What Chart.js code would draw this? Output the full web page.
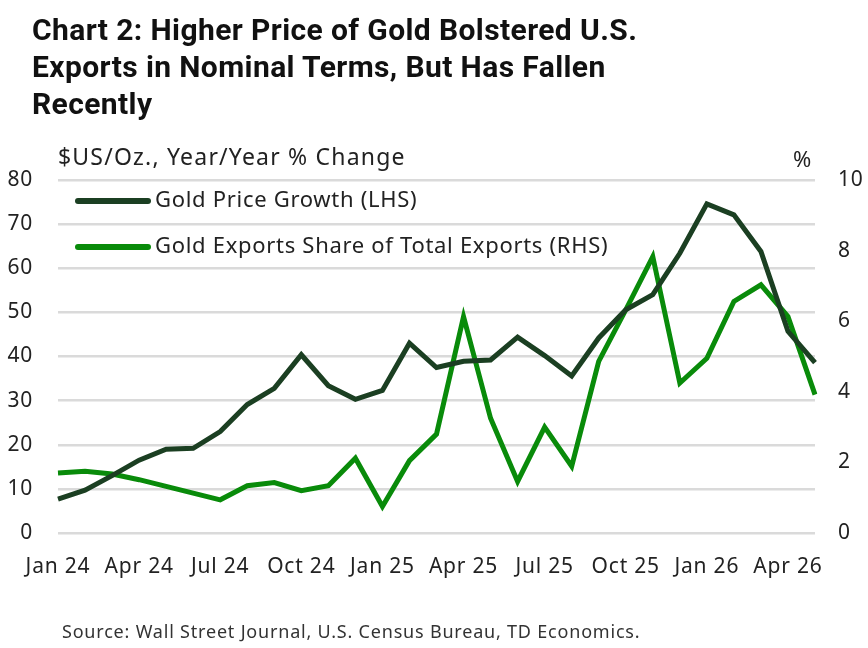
<!DOCTYPE html>
<html>
<head>
<meta charset="utf-8">
<script src="https://cdn.jsdelivr.net/npm/chart.js@4"></script>
<style>
  html, body { margin: 0; padding: 0; background: #fff; }
  #wrap { position: relative; width: 868px; height: 648px; overflow: hidden; }
  #chart { position: absolute; left: 0; top: 0; }
  .title {
    position: absolute; left: 32px; top: 11px;
    font-family: Roboto, sans-serif; font-weight: bold;
    font-size: 30px; line-height: 37px; letter-spacing: 0.4px; color: #111;
  }
  .txt { position: absolute; font-family: "Noto Sans", sans-serif; color: #222; white-space: nowrap; }
</style>
</head>
<body>
<div id="wrap">
  <canvas id="chart" width="868" height="648"></canvas>
  <div class="title">Chart 2: Higher Price of Gold Bolstered U.S.<br>Exports in Nominal Terms, But Has Fallen<br>Recently</div>
  <div class="txt" style="left:58px; top:140px; font-size:23px; letter-spacing:1.2px;">$US/Oz., Year/Year % Change</div>
  <div class="txt" style="left:793px; top:143px; font-size:22px;">%</div>
  <div class="txt" style="left:62px; top:619px; font-size:18px; letter-spacing:0.8px; color:#333;">Source: Wall Street Journal, U.S. Census Bureau, TD Economics.</div>
</div>
<script>
const months = [
  'Jan 24', 'Feb 24', 'Mar 24', 'Apr 24', 'May 24', 'Jun 24', 'Jul 24', 'Aug 24', 'Sep 24', 'Oct 24', 'Nov 24', 'Dec 24',
  'Jan 25', 'Feb 25', 'Mar 25', 'Apr 25', 'May 25', 'Jun 25', 'Jul 25', 'Aug 25', 'Sep 25', 'Oct 25', 'Nov 25', 'Dec 25',
  'Jan 26', 'Feb 26', 'Mar 26', 'Apr 26', 'May 26'
];

// Gold price, y/y % change (left axis)
const goldPriceGrowth = [
  7.7, 9.7, 13.0, 16.5, 19.0, 19.2, 23.0, 29.1, 32.8, 40.4, 33.4, 30.3,
  32.3, 43.0, 37.5, 38.9, 39.2, 44.4, 40.2, 35.6, 44.2, 50.6, 54.0, 63.4,
  74.6, 72.1, 63.8, 45.7, 38.6
];

// Gold exports as % of total exports (right axis)
const goldExportsShare = [
  1.70, 1.75, 1.67, 1.51, 1.32, 1.13, 0.94, 1.34, 1.43, 1.20, 1.34, 2.12,
  0.75, 2.05, 2.80, 6.13, 3.25, 1.46, 3.00, 1.89, 4.86, 6.32, 7.83, 4.25,
  4.95, 6.56, 7.03, 6.13, 3.92
];

const leftTicks = [0, 10, 20, 30, 40, 50, 60, 70, 80];
const rightTicks = [0, 2, 4, 6, 8, 10];

const seriesNames = ['Gold Price Growth (LHS)', 'Gold Exports Share of Total Exports (RHS)'];
const darkGreen = '#1b3f22';
const brightGreen = '#098b0a';
const tickFont = { family: 'Noto Sans', size: 21 };

// wider spacing for the tick text, the original font runs wide
const spacing = {
  id: 'spacing',
  beforeDraw(chart) { chart.ctx.letterSpacing = '0.8px'; }
};

// legend drawn inside the plot, top-left, like the original
const legendInside = {
  id: 'legendInside',
  afterDatasetsDraw(chart) {
    const { ctx, chartArea } = chart;
    ctx.save();
    ctx.letterSpacing = '0.7px';
    chart.data.datasets.forEach((ds, i) => {
      const y = chartArea.top + 21 + i * 46;
      const x0 = chartArea.left + 20;
      ctx.strokeStyle = ds.borderColor;
      ctx.lineWidth = 6;
      ctx.lineCap = 'round';
      ctx.beginPath();
      ctx.moveTo(x0, y);
      ctx.lineTo(x0 + 70, y);
      ctx.stroke();
      ctx.fillStyle = '#222';
      ctx.font = '22px "Noto Sans"';
      ctx.textBaseline = 'middle';
      ctx.fillText(ds.label, x0 + 77, y);
    });
    ctx.restore();
  }
};

new Chart(document.getElementById('chart'), {
  type: 'line',
  data: {
    labels: months,
    datasets: [
      {
        label: seriesNames[0],
        data: goldPriceGrowth,
        yAxisID: 'y',
        borderColor: darkGreen,
        borderWidth: 5,
        pointRadius: 0,
        tension: 0,
        borderJoinStyle: 'miter'
      },
      {
        label: seriesNames[1],
        data: goldExportsShare,
        yAxisID: 'y1',
        borderColor: brightGreen,
        borderWidth: 5,
        pointRadius: 0,
        tension: 0,
        borderJoinStyle: 'miter'
      }
    ]
  },
  options: {
    responsive: false,
    animation: false,
    layout: { padding: { top: 180, bottom: 0, left: 0, right: 0 } },
    plugins: {
      legend: { display: false },
      tooltip: { enabled: false }
    },
    scales: {
      x: {
        offset: false,
        grid: { display: false, drawTicks: false },
        border: { display: false },
        afterFit(scale) { scale.height = 115; },
        ticks: {
          autoSkip: false,
          maxRotation: 0,
          padding: 21,
          color: '#222',
          font: tickFont,
          callback(value, index) { return index % 3 === 0 ? months[index] : ''; }
        }
      },
      y: {
        position: 'left',
        min: 0,
        max: 80,
        afterFit(scale) { scale.width = 58; },
        afterBuildTicks(scale) { scale.ticks = leftTicks.map(v => ({ value: v })); },
        grid: { color: '#dadada', lineWidth: 2.5, drawTicks: false },
        border: { display: false },
        ticks: { padding: 25, color: '#222', font: tickFont }
      },
      y1: {
        position: 'right',
        min: 0,
        max: 10,
        afterFit(scale) { scale.width = 53; },
        afterBuildTicks(scale) { scale.ticks = rightTicks.map(v => ({ value: v })); },
        grid: { display: false, drawTicks: false },
        border: { display: false },
        ticks: { padding: 23, color: '#222', font: tickFont }
      }
    }
  },
  plugins: [spacing, legendInside]
});
</script>
</body>
</html>
